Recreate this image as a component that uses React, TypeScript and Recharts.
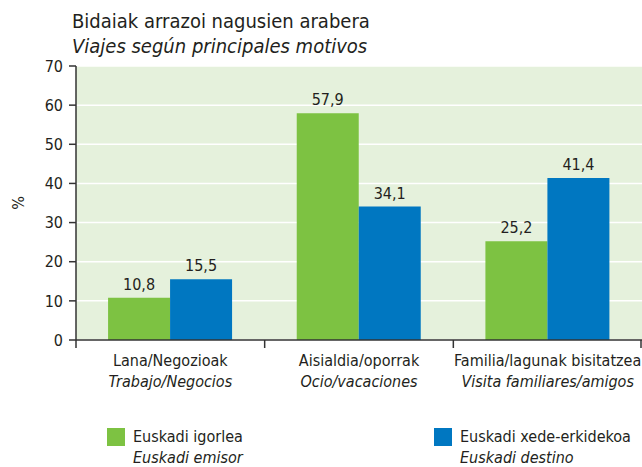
import React from 'react';
import { BarChart, Bar, XAxis, YAxis, CartesianGrid, LabelList } from 'recharts';

const categoriesEu = ['Lana/Negozioak', 'Aisialdia/oporrak', 'Familia/lagunak bisitatzea'];
const categoriesEs = ['Trabajo/Negocios', 'Ocio/vacaciones', 'Visita familiares/amigos'];
const emisorValues = [10.8, 57.9, 25.2];
const destinoValues = [15.5, 34.1, 41.4];
const yTicks = [0, 10, 20, 30, 40, 50, 60, 70];
const seriesNamesEu = ['Euskadi igorlea', 'Euskadi xede-erkidekoa'];
const seriesNamesEs = ['Euskadi emisor', 'Euskadi destino'];
const titleEu = 'Bidaiak arrazoi nagusien arabera';
const titleEs = 'Viajes según principales motivos';

const GREEN = '#7dc242';
const BLUE = '#0077c1';
const TEXT = '#231f20';
const FONT = "'Liberation Sans Narrow', 'DejaVu Sans Condensed', 'Arial Narrow', sans-serif";

const W = 642;
const H = 467;
const LEFT = 76;
const TOP = 66;
const PLOT_BOTTOM = 340;
const BAND = (W - LEFT) / categoriesEu.length;

const data = categoriesEu.map((c, i) => ({
  cat: c,
  es: categoriesEs[i],
  emisor: emisorValues[i],
  destino: destinoValues[i],
}));

const fmt = (v: any) => Number(v).toFixed(1).replace('.', ',');

const XTick = (props: any) => {
  const { x, y, payload, index } = props;
  const i = payload.index ?? index;
  const left = x - BAND / 2;
  const right = x + BAND / 2;
  const top = PLOT_BOTTOM;
  return (
    <g>
      <line x1={left} y1={top} x2={left} y2={top + 8} stroke="#333" strokeWidth={1.5} />
      {i === categoriesEu.length - 1 && (
        <line x1={Math.min(right, W - 1)} y1={top} x2={Math.min(right, W - 1)} y2={top + 8} stroke="#333" strokeWidth={1.5} />
      )}
      <text x={x} y={top + 26} textAnchor="middle" fill={TEXT} fontSize={16} fontFamily={FONT}>
        {payload.value}
      </text>
      <text x={x} y={top + 47} textAnchor="middle" fill={TEXT} fontSize={16} fontFamily={FONT} fontStyle="italic">
        {categoriesEs[i]}
      </text>
    </g>
  );
};

const YLabel = () => (
  <text x={24} y={203} transform="rotate(-90 24 203)" textAnchor="middle" fill={TEXT} fontSize={16} fontFamily={FONT}>
    %
  </text>
);

export default function App() {
  const legendColors = [GREEN, BLUE];
  const legendX = [107, 434];
  return (
    <div style={{ position: 'absolute', left: 0, top: 0, width: W, height: H, background: '#fff', fontFamily: FONT }}>
      <div style={{ position: 'absolute', left: 72, top: 9, fontSize: 20, color: TEXT, lineHeight: '24px', whiteSpace: 'nowrap' }}>
        {titleEu}
      </div>
      <div style={{ position: 'absolute', left: 72, top: 34, fontSize: 20, color: TEXT, lineHeight: '24px', fontStyle: 'italic', whiteSpace: 'nowrap' }}>
        {titleEs}
      </div>
      <BarChart
        width={W}
        height={H}
        data={data}
        margin={{ top: TOP, right: 0, left: 0, bottom: 0 }}
        barCategoryGap="17%"
        barGap={0}
      >
        <CartesianGrid vertical={false} stroke="#ffffff" strokeWidth={1.5} fill="#e5f1dc" fillOpacity={1} />
        <XAxis
          dataKey="cat"
          height={H - PLOT_BOTTOM - 0}
          tickLine={false}
          axisLine={{ stroke: '#333', strokeWidth: 1.5 }}
          tick={<XTick />}
          interval={0}
        />
        <YAxis
          width={LEFT}
          domain={[0, 70]}
          ticks={yTicks}
          tickSize={7}
          tickMargin={6}
          axisLine={{ stroke: '#333', strokeWidth: 1.5 }}
          tickLine={{ stroke: '#333', strokeWidth: 1.5 }}
          tick={{ fill: TEXT, fontSize: 16, fontFamily: FONT }}
          label={<YLabel />}
        />
        <Bar dataKey="emisor" fill={GREEN} isAnimationActive={false}>
          <LabelList dataKey="emisor" position="top" offset={8} formatter={fmt} fill={TEXT} fontSize={16} fontFamily={FONT} />
        </Bar>
        <Bar dataKey="destino" fill={BLUE} isAnimationActive={false}>
          <LabelList dataKey="destino" position="top" offset={8} formatter={fmt} fill={TEXT} fontSize={16} fontFamily={FONT} />
        </Bar>
      </BarChart>
      {seriesNamesEu.map((name, i) => (
        <div key={name} style={{ position: 'absolute', left: legendX[i], top: 428, color: TEXT, fontSize: 16 }}>
          <div style={{ position: 'absolute', left: 0, top: 0, width: 18, height: 18, background: legendColors[i] }} />
          <div style={{ position: 'absolute', left: 26, top: -1, whiteSpace: 'nowrap', lineHeight: '20px' }}>{name}</div>
          <div style={{ position: 'absolute', left: 26, top: 20, whiteSpace: 'nowrap', lineHeight: '20px', fontStyle: 'italic' }}>{seriesNamesEs[i]}</div>
        </div>
      ))}
    </div>
  );
}
